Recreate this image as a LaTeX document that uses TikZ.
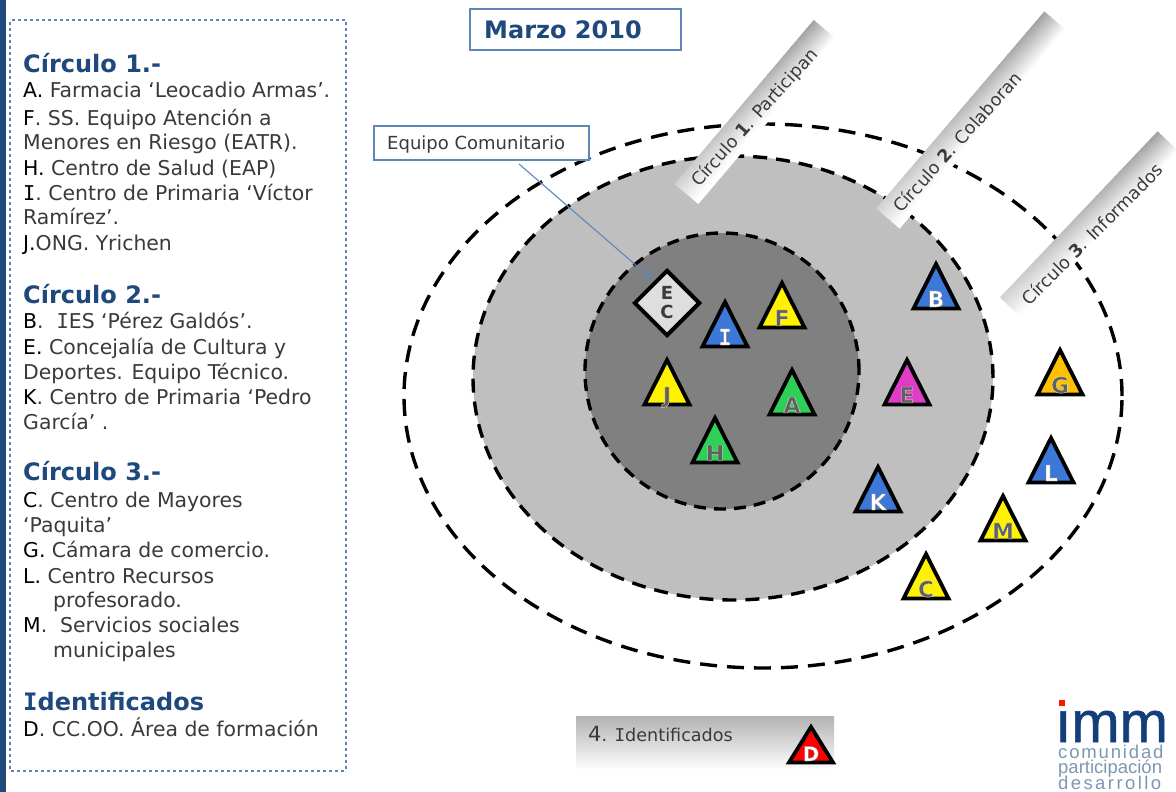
\documentclass[tikz,border=0pt]{standalone}
\usepackage{fontspec}
\usetikzlibrary{shapes.geometric,arrows.meta}
\setmainfont{DejaVu Sans}
\newfontfamily\serI{DejaVu Sans Mono}
\newfontfamily\logofont{Liberation Sans}
\definecolor{navy}{HTML}{1F497D}
\definecolor{framebl}{HTML}{5F86B8}
\definecolor{bodyc}{HTML}{3A3A3A}
\definecolor{triblue}{HTML}{3C78D8}
\definecolor{trigreen}{HTML}{2FD058}
\definecolor{trimag}{HTML}{E03CC8}
\definecolor{triorange}{HTML}{FFC000}
\definecolor{logob}{HTML}{123F7A}
\definecolor{logog}{HTML}{7F97B2}
\newcommand{\fs}[1]{\fontsize{#1}{#1}\selectfont}
\newcommand{\outl}[3]{\special{pdf:code 2 Tr #1 w #2 RG}#3\special{pdf:code 0 Tr}}
\tikzset{
  x=1pt,y=-1pt,
  txt/.style={anchor=base west,inner sep=0pt,text=bodyc,font=\fs{20.4}},
  head/.style={anchor=base west,inner sep=0pt,text=navy,font=\fs{24}\bfseries},
  ring/.style={draw=black,dashed},
  barlabel/.style={inner sep=0pt,text=bodyc,font=\fs{17.6}},
  trishape/.style={draw=black,line width=3.8pt,miter limit=10},
  tletter/.style={inner sep=0pt,anchor=base,font=\fs{22}\bfseries},
  bluebox/.style={draw=framebl,line width=1.4pt,fill=white,rectangle,inner sep=0pt}
}
\newcommand{\Lt}[4]{\node[txt] (#1) at (#2,#3) {#4};}
\newcommand{\Hd}[3]{\node[head] (#1) at (23,#2) {#3};}
\newcommand{\Tr}[6]{% name, apex x, apex y, fill, letter colour settings, letter
  \path[trishape,fill=#4] (#2,#3+3) -- (#2+22.5,#3+47.5) -- (#2-22.5,#3+47.5) -- cycle;
  \node[tletter] (#1) at (#2,#3+46) {#5{#6}};}
\newcommand{\Yl}[1]{\color[gray]{0.38}\outl{0.35}{0.95 0.95 0.75}{#1}}
\newcommand{\Bl}[1]{\color{white}\outl{0.35}{0.45 0.45 0.45}{#1}}
\newcommand{\Gl}[1]{\color[gray]{0.38}\outl{0.35}{0.9 0.9 0.9}{#1}}
% gradient bar: centre x, centre y, angle, length; fades across its width and, less, towards its lower end
\newcommand{\GradBar}[4]{%
  \begin{scope}[shift={(#1,#2)},rotate=#3]
    \foreach \j in {0,...,17}{
      \pgfmathsetmacro{\xa}{-#4/2+\j*#4/18}
      \pgfmathsetmacro{\xb}{\j==17 ? #4/2 : \xa+#4/18+1}
      \foreach \i in {0,...,15}{
        \pgfmathsetmacro{\pct}{max(0,36*(1-\i*2/27))*(0.5+0.5*\j/17)}
        \fill[black!\pct!white] (\xa,-15.5+\i*2) rectangle (\xb,{-15.5+min(\i*2+2.6,31)});
      }
    }
  \end{scope}}
\begin{document}
\begin{tikzpicture}
\useasboundingbox (0,0) rectangle (1176,792);
\fill[white] (0,0) rectangle (1176,792);
% left panel
\fill[navy] (0,0) rectangle (6,792);
\node[rectangle,draw=framebl,dashed,line width=1.3pt,rounded corners=1pt,minimum width=336pt,minimum height=751pt,inner sep=0pt] (panel) at (178,395.5) {};
\Hd{h1}{72.5}{Círculo 1.-}
\Lt{a}{23}{98}{\textcolor{black}{A.} Farmacia ‘Leocadio Armas’.}
\Lt{f}{23}{125}{\textcolor{black}{F}. SS. Equipo Atención a}
\Lt{f2}{23}{149}{Menores en Riesgo (EATR).}
\Lt{hh}{23}{175}{\textcolor{black}{H.} Centro de Salud (EAP)}
\Lt{ii}{23}{200}{\textcolor{black}{\serI I}. Centro de Primaria ‘Víctor}
\Lt{i2}{23}{224}{Ramírez’.}
\Lt{jj}{23}{250}{\textcolor{black}{J.}ONG. Yrichen}
\Hd{h2}{303}{Círculo 2.-}
\Lt{bb}{23}{328}{\textcolor{black}{B}. \ {\serI I}ES ‘Pérez Galdós’.}
\Lt{ee}{23}{354}{\textcolor{black}{E.} Concejalía de Cultura y}
\Lt{e2}{23}{379}{Deportes. Equipo Técnico.}
\Lt{kk}{23}{404}{\textcolor{black}{K}. Centro de Primaria ‘Pedro}
\Lt{k2}{23}{429}{García’ .}
\Hd{h3}{480}{Círculo 3.-}
\Lt{cc}{23}{507}{\textcolor{black}{C}. Centro de Mayores}
\Lt{c2}{23}{532}{‘Paquita’}
\Lt{gg}{23}{557}{\textcolor{black}{G.} Cámara de comercio.}
\Lt{ll}{23}{583}{\textcolor{black}{L.} Centro Recursos}
\Lt{l2}{53}{607}{profesorado.}
\Lt{mm}{23}{632}{\textcolor{black}{M}. \ Servicios sociales}
\Lt{m2}{53}{657}{municipales}
\Hd{h4}{710}{{\serI I}dentificados}
\Lt{dd}{23}{736}{\textcolor{black}{D}. CC.OO. Área de formación}
% title
\node[bluebox,minimum width=211pt,minimum height=41pt] (title) at (575.5,29.5) {};
\node[inner sep=0pt,anchor=base west,text=navy,font=\fs{24}\bfseries] (titletext) at (484,39) {Marzo 2010};
% rings
\path[ring,line width=3.4pt,dash pattern=on 17pt off 10pt] (763,396) ellipse [x radius=359pt,y radius=272pt];
\path[ring,fill=black!25,line width=3.4pt,dash pattern=on 14pt off 9pt] (733,378) ellipse [x radius=260pt,y radius=222pt];
\path[ring,fill=black!50,line width=3.4pt,dash pattern=on 12pt off 8pt] (722,371) ellipse [x radius=137pt,y radius=138pt];
% bars
\GradBar{756}{112}{49.7}{215}
\GradBar{972}{120}{49.5}{259}
\GradBar{1090}{225}{46.5}{229}
\node[barlabel,rotate=48] (lab1) at (755,118) {Círculo {\bfseries 1}. Participan};
\node[barlabel,rotate=48] (lab2) at (957,142) {Círculo {\bfseries 2}. Colaboran};
\node[barlabel,rotate=45] (lab3) at (1092,234) {Círculo {\bfseries 3}. Informados};
% community box and arrow
\node[bluebox,minimum width=215pt,minimum height=34pt] (eq) at (481.5,143) {};
\node[inner sep=0pt,anchor=base west,text=bodyc,font=\fs{18}] (eqtext) at (387,149) {Equipo Comunitario};
\node[diamond,draw=black,line width=4pt,fill=black!13,minimum width=66pt,minimum height=66pt,inner sep=0pt,align=center,font=\fs{18}\bfseries,text=bodyc] (ec) at (667,303) {E\\[1pt]C};
\coordinate (eqs) at (519,164);
\coordinate (ecin) at (653,280);
\draw[framebl,line width=1.1pt,-{Straight Barb[length=9pt,width=9pt]}] (eqs) -- (ecin);
% triangles
\Tr{tF}{782}{280}{yellow}{\Yl}{F}
\Tr{tI}{725}{299}{triblue}{\Bl}{{\serI\bfseries I}}
\Tr{tJ}{667}{357}{yellow}{\Yl}{J}
\Tr{tA}{792}{367}{trigreen}{\Gl}{A}
\Tr{tH}{715}{415}{trigreen}{\Gl}{H}
\Tr{tE}{907}{357}{trimag}{\Gl}{E}
\Tr{tB}{936}{261}{triblue}{\Bl}{B}
\Tr{tK}{878}{464}{triblue}{\Bl}{K}
\Tr{tG}{1060}{347}{triorange}{\Yl}{G}
\Tr{tL}{1051}{435}{triblue}{\Bl}{L}
\Tr{tM}{1003}{493}{yellow}{\Yl}{M}
\Tr{tC}{926}{551}{yellow}{\Yl}{C}
% identified strip
\node[rectangle,inner sep=0pt,minimum width=258pt,minimum height=54pt,top color=black!30,bottom color=white] (strip) at (705,743) {};
\node[inner sep=0pt,anchor=base west,text=bodyc,font=\fs{17.6}] (striptext) at (588,741) {{\fs{21}4}. {\serI I}dentificados};
\path[trishape,fill=red] (811,727) -- (833,762.5) -- (789,762.5) -- cycle;
\node[tletter,font=\fs{20}\bfseries] (tD) at (811,761) {\Bl{D}};
% logo
\fill[red!85!orange] (1059,700) rectangle (1065,706);
\node[inner sep=0pt,anchor=base west,text=logob,font=\logofont\fs{58}\addfontfeature{FakeBold=1}] (logoimm) at (1055,742) {ımm};
\node[inner sep=0pt,anchor=base west,text=logog,font=\logofont\fs{18.5}\addfontfeature{LetterSpace=10}] (logo1) at (1058,758) {comunidad};
\node[inner sep=0pt,anchor=base west,text=logog,font=\logofont\fs{18.5}] (logo2) at (1058,773) {participación};
\node[inner sep=0pt,anchor=base west,text=logog,font=\logofont\fs{18.5}\addfontfeature{LetterSpace=13}] (logo3) at (1058,789) {desarrollo};
\end{tikzpicture}
\end{document}
